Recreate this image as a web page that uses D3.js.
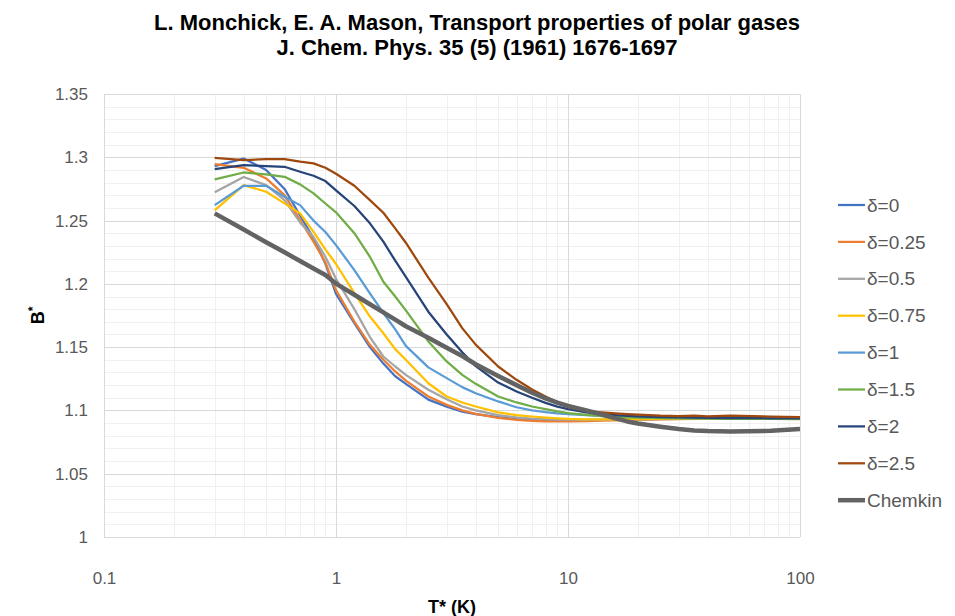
<!DOCTYPE html>
<html lang='en'>
	<head>
		<meta charset='utf-8'>
		<title>B* polar gases</title>
		<script type='text/javascript' src='https://cdn.jsdelivr.net/npm/d3@7/dist/d3.min.js'></script>
		<style>
			body { margin: 0; background: #fff; }
			svg text { font-family: 'Liberation Sans', Arial, sans-serif; }
			.title { font-weight: bold; font-size: 22px; fill: #000; }
			.tick text { font-size: 17px; fill: #595959; }
			.axis-title { font-weight: bold; font-size: 18px; fill: #000; }
			.legend text { font-size: 19px; fill: #595959; }
		</style>
	</head>
	<body>
		<script type='text/javascript'>
			// reduced temperature T*
			var tStar = [0.3, 0.4, 0.5, 0.6, 0.7, 0.8, 0.9, 1, 1.2, 1.4, 1.6, 1.8, 2, 2.5, 3, 3.5, 4, 5, 6, 7, 8, 9, 10,
				12, 14, 16, 18, 20, 25, 30, 35, 40, 50, 75, 100];

			// B* from the Monchick-Mason tables, one array per delta
			var delta0 = [1.2930, 1.2990, 1.2900, 1.2750, 1.2540, 1.2360, 1.2160, 1.1920, 1.1690, 1.1500, 1.1370, 1.1270, 1.1210, 1.1085, 1.1030, 1.0990, 1.0970, 1.0947, 1.0932, 1.0926, 1.0923, 1.0922, 1.0922,
				1.0923, 1.0925, 1.0927, 1.0929, 1.0930, 1.0933, 1.0935, 1.0937, 1.0938, 1.0940, 1.0940, 1.0940];
			var delta025 = [1.2946, 1.2917, 1.2833, 1.2701, 1.2504, 1.2333, 1.2170, 1.1950, 1.1702, 1.1518, 1.1400, 1.1308, 1.1236, 1.1110, 1.1044, 1.1000, 1.0973, 1.0942, 1.0926, 1.0917, 1.0914, 1.0913, 1.0914,
				1.0916, 1.0919, 1.0922, 1.0924, 1.0926, 1.0929, 1.0931, 1.0933, 1.0934, 1.0935, 1.0936, 1.0936];
			var delta05 = [1.2723, 1.2844, 1.2780, 1.2662, 1.2485, 1.2370, 1.2214, 1.2040, 1.1800, 1.1580, 1.1426, 1.1347, 1.1281, 1.1163, 1.1089, 1.1031, 1.1000, 1.0963, 1.0945, 1.0936, 1.0931, 1.0928, 1.0927,
				1.0926, 1.0927, 1.0928, 1.0929, 1.0930, 1.0932, 1.0934, 1.0935, 1.0936, 1.0937, 1.0937, 1.0937];
			var delta075 = [1.2580, 1.2780, 1.2728, 1.2636, 1.2557, 1.2410, 1.2272, 1.2157, 1.1926, 1.1742, 1.1610, 1.1484, 1.1400, 1.1215, 1.1110, 1.1063, 1.1031, 1.0984, 1.0963, 1.0952, 1.0943, 1.0937, 1.0933,
				1.0930, 1.0930, 1.0930, 1.0931, 1.0932, 1.0934, 1.0936, 1.0938, 1.0938, 1.0939, 1.0940, 1.0940];
			var delta1 = [1.2622, 1.2775, 1.2775, 1.2688, 1.2622, 1.2500, 1.2410, 1.2306, 1.2109, 1.1925, 1.1770, 1.1640, 1.1510, 1.1340, 1.1255, 1.1184, 1.1136, 1.1071, 1.1025, 1.1000, 1.0986, 1.0977, 1.0971,
				1.0962, 1.0956, 1.0952, 1.0949, 1.0947, 1.0944, 1.0943, 1.0942, 1.0942, 1.0941, 1.0941, 1.0940];
			var delta15 = [1.2825, 1.2880, 1.2865, 1.2846, 1.2786, 1.2715, 1.2635, 1.2565, 1.2400, 1.2214, 1.2017, 1.1900, 1.1790, 1.1545, 1.1387, 1.1281, 1.1210, 1.1110, 1.1063, 1.1031, 1.1010, 1.0992, 1.0978,
				1.0965, 1.0955, 1.0950, 1.0946, 1.0943, 1.0940, 1.0938, 1.0936, 1.0935, 1.0934, 1.0933, 1.0932];
			var delta2 = [1.2907, 1.2938, 1.2930, 1.2925, 1.2886, 1.2854, 1.2812, 1.2738, 1.2615, 1.2478, 1.2333, 1.2183, 1.2056, 1.1780, 1.1600, 1.1460, 1.1350, 1.1220, 1.1150, 1.1100, 1.1060, 1.1030, 1.1010,
				1.0985, 1.0970, 1.0962, 1.0957, 1.0953, 1.0948, 1.0945, 1.0943, 1.0942, 1.0940, 1.0938, 1.0937];
			var delta25 = [1.2996, 1.2978, 1.2986, 1.2986, 1.2965, 1.2952, 1.2917, 1.2870, 1.2775, 1.2662, 1.2562, 1.2438, 1.2325, 1.2050, 1.1840, 1.1650, 1.1520, 1.1347, 1.1242, 1.1165, 1.1110, 1.1065, 1.1028,
				1.0995, 1.0984, 1.0976, 1.0970, 1.0966, 1.0958, 1.0955, 1.0958, 1.0953, 1.0958, 1.0952, 1.0948];
			var chemkin = [1.2557, 1.2429, 1.2329, 1.2249, 1.2180, 1.2122, 1.2070, 1.2002, 1.1914, 1.1839, 1.1775, 1.1718, 1.1665, 1.1574, 1.1495, 1.1430, 1.1365, 1.1272, 1.1200, 1.1140, 1.1095, 1.1061, 1.1035,
				1.1000, 1.0968, 1.0937, 1.0913, 1.0897, 1.0871, 1.0853, 1.0842, 1.0837, 1.0834, 1.0839, 1.0853];

			var seriesNames = ['δ=0', 'δ=0.25', 'δ=0.5', 'δ=0.75', 'δ=1', 'δ=1.5', 'δ=2', 'δ=2.5', 'Chemkin'];
			var seriesValues = [delta0, delta025, delta05, delta075, delta1, delta15, delta2, delta25, chemkin];
			var seriesColors = ['#4472c4', '#ed7d31', '#a5a5a5', '#ffc000', '#5b9bd5', '#70ad47', '#264478', '#9e480e', '#636363'];

			var xTicks = [0.1, 1, 10, 100];
			var yTicks = [1, 1.05, 1.1, 1.15, 1.2, 1.25, 1.3, 1.35];

			var width = 955;
			var height = 616;
			var plot = { left: 104, right: 800, top: 94, bottom: 537 };

			var x = d3.scaleLog().domain([0.1, 100]).range([plot.left, plot.right]);
			var y = d3.scaleLinear().domain([1, 1.35]).range([plot.bottom, plot.top]);

			var svg = d3.select('body').append('svg')
				.attr('width', width)
				.attr('height', height);

			// minor grid: 2..9 per decade, every 0.01 on y
			var minorX = [];
			[0.1, 1, 10].forEach(function(d) {
				for (var k = 2; k <= 9; k++) minorX.push(d * k);
			});
			var minorY = d3.range(1, 1.3501, 0.01).filter(function(v) {
				return Math.abs(v * 20 - Math.round(v * 20)) > 1e-6;
			});

			var grid = svg.append('g').attr('class', 'grid');
			grid.selectAll('line.minx').data(minorX).enter().append('line')
				.attr('x1', function(d) { return Math.round(x(d)) + 0.5; })
				.attr('x2', function(d) { return Math.round(x(d)) + 0.5; })
				.attr('y1', plot.top).attr('y2', plot.bottom)
				.attr('stroke', '#f0f0f0');
			grid.selectAll('line.miny').data(minorY).enter().append('line')
				.attr('x1', plot.left).attr('x2', plot.right)
				.attr('y1', function(d) { return Math.round(y(d)) + 0.5; })
				.attr('y2', function(d) { return Math.round(y(d)) + 0.5; })
				.attr('stroke', '#f0f0f0');
			grid.selectAll('line.majx').data(xTicks).enter().append('line')
				.attr('x1', function(d) { return Math.round(x(d)) + 0.5; })
				.attr('x2', function(d) { return Math.round(x(d)) + 0.5; })
				.attr('y1', plot.top).attr('y2', plot.bottom)
				.attr('stroke', '#d9d9d9');
			grid.selectAll('line.majy').data(yTicks).enter().append('line')
				.attr('x1', plot.left).attr('x2', plot.right)
				.attr('y1', function(d) { return Math.round(y(d)) + 0.5; })
				.attr('y2', function(d) { return Math.round(y(d)) + 0.5; })
				.attr('stroke', '#d9d9d9');

			// axes (labels only)
			svg.append('g')
				.attr('transform', 'translate(0,' + plot.bottom + ')')
				.call(d3.axisBottom(x).tickValues(xTicks).tickFormat(function(d) { return String(d); }).tickSize(0).tickPadding(35));
			svg.append('g')
				.attr('transform', 'translate(' + plot.left + ',0)')
				.call(d3.axisLeft(y).tickValues(yTicks).tickFormat(function(d) { return String(+d.toFixed(2)); }).tickSize(0).tickPadding(16));
			svg.selectAll('.domain').remove();
			svg.selectAll('.tick text').attr('font-family', null).attr('font-size', null);

			var line = d3.line()
				.x(function(d) { return x(d[0]); })
				.y(function(d) { return y(d[1]); });

			svg.append('g').attr('class', 'series')
				.selectAll('path')
				.data(seriesValues)
				.enter().append('path')
					.attr('d', function(vals) {
						return line(vals.map(function(v, i) { return [tStar[i], v]; }));
					})
					.attr('fill', 'none')
					.attr('stroke', function(d, i) { return seriesColors[i]; })
					.attr('stroke-width', function(d, i) { return i === 8 ? 4.5 : 2.25; })
					.attr('stroke-linejoin', 'round');

			// titles
			svg.append('text').attr('class', 'title')
				.attr('x', 477).attr('y', 30).attr('text-anchor', 'middle')
				.text('L. Monchick, E. A. Mason, Transport properties of polar gases');
			svg.append('text').attr('class', 'title')
				.attr('x', 477).attr('y', 55).attr('text-anchor', 'middle')
				.text('J. Chem. Phys. 35 (5) (1961) 1676-1697');

			svg.append('text').attr('class', 'axis-title')
				.attr('x', (plot.left + plot.right) / 2).attr('y', 613).attr('text-anchor', 'middle')
				.text('T* (K)');

			var yTitle = svg.append('text').attr('class', 'axis-title')
				.attr('transform', 'translate(44,' + ((plot.top + plot.bottom) / 2) + ') rotate(-90)')
				.attr('text-anchor', 'middle');
			yTitle.append('tspan').text('B');
			yTitle.append('tspan').attr('dy', -7).attr('font-size', 12).text('*');

			// legend
			var legend = svg.append('g').attr('class', 'legend');
			var item = legend.selectAll('g')
				.data(seriesNames)
				.enter().append('g')
					.attr('transform', function(d, i) { return 'translate(838,' + (205 + i * 36.9) + ')'; });
			item.append('line')
				.attr('x1', 0).attr('x2', 27)
				.attr('stroke', function(d, i) { return seriesColors[i]; })
				.attr('stroke-width', function(d, i) { return i === 8 ? 4.5 : 2.25; });
			item.append('text')
				.attr('x', 29).attr('dy', '0.35em')
				.text(function(d) { return d; });
		</script>
	</body>
</html>
